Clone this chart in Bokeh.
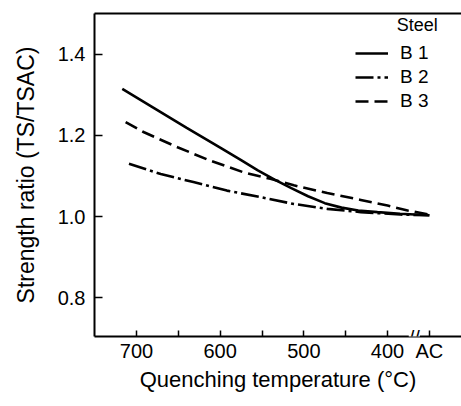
from bokeh.plotting import figure
from bokeh.models import (Range1d, FixedTicker, LinearAxis, Legend, LegendItem,
                          Label, PrintfTickFormatter)
from bokeh.embed import file_html
from bokeh.resources import INLINE

# ---- data ----
b1_temp = [717, 680, 640, 600, 575, 555, 535, 515, 495, 475, 455, 435, 412, 385, 350]
b1_ratio = [1.315, 1.269, 1.219, 1.170, 1.139, 1.114, 1.091, 1.070, 1.050, 1.033,
            1.022, 1.015, 1.011, 1.007, 1.003]

b2_temp = [709, 671, 632, 592, 552, 512, 472, 432, 385, 350]
b2_ratio = [1.130, 1.105, 1.085, 1.064, 1.048, 1.031, 1.019, 1.011, 1.005, 1.003]

b3_temp = [713, 691, 651, 612, 572, 540, 512, 472, 432, 400, 376, 350]
b3_ratio = [1.233, 1.208, 1.171, 1.138, 1.109, 1.093, 1.077, 1.058, 1.041, 1.027,
            1.015, 1.005]

x_major = [700, 600, 500, 400, 350]
x_minor = [650, 550, 450]
x_labels = {350: "AC"}
y_major = [0.8, 1.0, 1.2, 1.4]
series_names = ["B 1", "B 2", "B 3"]
legend_title = "Steel"
BREAK_POS = 368

FONT = "Liberation Sans"

p = figure(width=461, height=406, output_backend="svg", toolbar_location=None,
           x_range=Range1d(750.2, 311.6), y_range=Range1d(0.704, 1.501),
           min_border_left=94, min_border_right=0, min_border_top=13,
           min_border_bottom=70)
p.outline_line_color = None
p.xgrid.visible = False
p.ygrid.visible = False
p.background_fill_color = "white"

# bottom axis
xa = p.xaxis[0]
xa.ticker = FixedTicker(ticks=x_major, minor_ticks=x_minor)
xa.major_label_overrides = x_labels
xa.axis_label = "Quenching temperature (°C)"
for ax in p.axis:
    ax.axis_line_width = 2
    ax.axis_line_color = "black"
    ax.major_tick_line_width = 1.5
    ax.minor_tick_line_width = 1.5
    ax.major_tick_out = 0
    ax.minor_tick_out = 0
    ax.major_label_text_font = FONT
    ax.major_label_text_font_size = "20px"
    ax.major_label_text_color = "black"
    ax.axis_label_text_font = FONT
    ax.axis_label_text_font_style = "normal"
    ax.axis_label_text_color = "black"
xa.major_tick_in = 6
xa.minor_tick_in = 6
xa.major_label_standoff = 3
xa.axis_label_text_font_size = "22px"
xa.axis_label_standoff = 2

ya = p.yaxis[0]
ya.ticker = FixedTicker(ticks=y_major)
ya.formatter = PrintfTickFormatter(format="%.1f")
ya.major_tick_in = 8
ya.minor_tick_in = 0
ya.major_label_standoff = 9
ya.axis_label = "Strength ratio (TS/TSAC)"
ya.axis_label_text_font_size = "23px"
ya.axis_label_standoff = 16

# top frame line
top = LinearAxis(ticker=FixedTicker(ticks=[]), major_label_text_font_size="0px",
                 axis_line_width=2, major_tick_in=0, major_tick_out=0,
                 minor_tick_in=0, minor_tick_out=0)
p.add_layout(top, "above")

lw = 2.6
r1 = p.line(b1_temp, b1_ratio, line_width=lw, line_color="black")
r2 = p.line(b2_temp, b2_ratio, line_width=lw, line_color="black", line_dash="18 4 3 4")
r3 = p.line(b3_temp, b3_ratio, line_width=lw, line_color="black", line_dash="13 6")

legend = Legend(items=[LegendItem(label=series_names[0], renderers=[r1]),
                       LegendItem(label=series_names[1], renderers=[r2]),
                       LegendItem(label=series_names[2], renderers=[r3])],
                location=(261, 224), padding=0, margin=0,
                border_line_color=None, background_fill_alpha=0,
                glyph_width=33, glyph_height=20, label_height=20,
                label_standoff=12, spacing=2,
                label_text_font=FONT, label_text_font_size="19px",
                label_text_color="black")
p.add_layout(legend)

p.add_layout(Label(x=389, y=1.447, text=legend_title, text_font=FONT,
                   text_font_size="18px", text_color="black"))

# axis break mark
p.add_layout(Label(x=BREAK_POS, y=0.700, text="//", text_align="center",
                   text_baseline="middle", text_font=FONT, text_font_size="20px",
                   text_color="black", background_fill_color="white"))

open("out.html", "w").write(file_html(p, INLINE))
